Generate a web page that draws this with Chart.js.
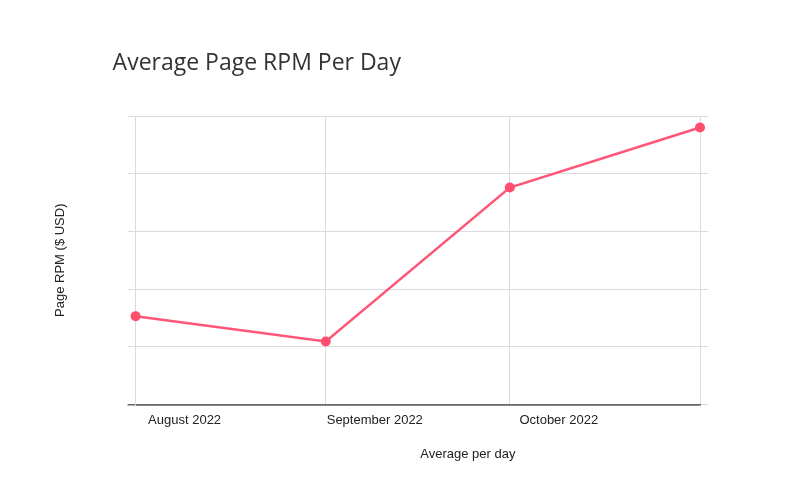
<!DOCTYPE html>
<html>
<head>
<meta charset="utf-8">
<script src="https://cdn.jsdelivr.net/npm/chart.js@4.4.0/dist/chart.umd.min.js"></script>
<style>
html,body{margin:0;padding:0;background:#fff;}
#wrap{width:800px;height:500px;position:relative;}
</style>
</head>
<body>
<div id="wrap"><canvas id="c" width="800" height="500"></canvas></div>
<script>
const chartTitle = 'Average Page RPM Per Day';
const yAxisTitle = 'Page RPM ($ USD)';
const xAxisTitle = 'Average per day';
const dates = ['2022-08-01', '2022-09-01', '2022-10-01', '2022-11-01'];
const tickLabels = ['August 2022', 'September 2022', 'October 2022', ''];
const rpmValues = [1.53, 1.09, 3.76, 4.80];
const yMin = 0, yMax = 5, yStep = 1;

const DAY = 86400000;
const t0 = Date.parse(dates[0]);
const dayOffsets = dates.map(d => Math.round((Date.parse(d) - t0) / DAY));
const points = dayOffsets.map((x, i) => ({x: x, y: rpmValues[i]}));

const GRID = '#dcd9df';
const FONT = '"Liberation Sans", Arial, sans-serif';

const textPlugin = {
  id: 'extraText',
  afterDraw(chart) {
    const ctx = chart.ctx;
    const ca = chart.chartArea;
    ctx.save();
    ctx.fillStyle = '#333333';
    ctx.font = '23px "Open Sans", sans-serif';
    ctx.textAlign = 'left';
    ctx.textBaseline = 'alphabetic';
    ctx.fillText(chartTitle, ca.left - 23, 70);
    ctx.fillStyle = '#222222';
    ctx.font = '13px ' + FONT;
    ctx.textAlign = 'center';
    ctx.textBaseline = 'middle';
    ctx.fillText(xAxisTitle, (ca.left + ca.right) / 2 + 50, 454);
    ctx.restore();
  }
};

new Chart(document.getElementById('c'), {
  type: 'line',
  data: {
    datasets: [{
      data: points,
      borderColor: '#ff5577',
      backgroundColor: '#ff4d6d',
      borderWidth: 2.5,
      pointRadius: 5,
      pointHoverRadius: 5,
      pointBorderWidth: 0,
      tension: 0,
      fill: false,
      clip: false
    }]
  },
  options: {
    responsive: false,
    animation: false,
    layout: {padding: {left: 49, right: 92, top: 116, bottom: 64}},
    plugins: {legend: {display: false}, title: {display: false}, tooltip: {enabled: false}},
    scales: {
      x: {
        type: 'linear',
        min: dayOffsets[0],
        max: dayOffsets[dayOffsets.length - 1],
        afterBuildTicks: (s) => { s.ticks = dayOffsets.map(v => ({value: v})); },
        grid: {color: GRID, drawTicks: false, lineWidth: 1},
        border: {display: true, color: '#666666', width: 1.5},
        ticks: {
          callback: (v) => { const i = dayOffsets.indexOf(v); return i >= 0 ? tickLabels[i] : ''; },
          labelOffset: 49,
          padding: 8,
          maxRotation: 0,
          autoSkip: false,
          color: '#222222',
          font: {family: FONT, size: 13}
        }
      },
      y: {
        min: yMin, max: yMax,
        ticks: {display: false, stepSize: yStep},
        grid: {color: (c) => c.tick && c.tick.value === yMin ? '#666666' : GRID, tickLength: 8, lineWidth: (c) => c.tick && c.tick.value === yMin ? 1.5 : 1},
        border: {display: true, color: GRID},
        title: {display: true, text: yAxisTitle, color: '#222222', font: {family: FONT, size: 13}, padding: {top: 4, bottom: 59}}
      },
      y2: {
        position: 'right',
        min: yMin, max: yMax,
        ticks: {display: false, stepSize: yStep},
        grid: {drawOnChartArea: false, color: GRID, tickLength: 8},
        border: {display: false}
      }
    }
  },
  plugins: [textPlugin]
});
</script>
</body>
</html>
